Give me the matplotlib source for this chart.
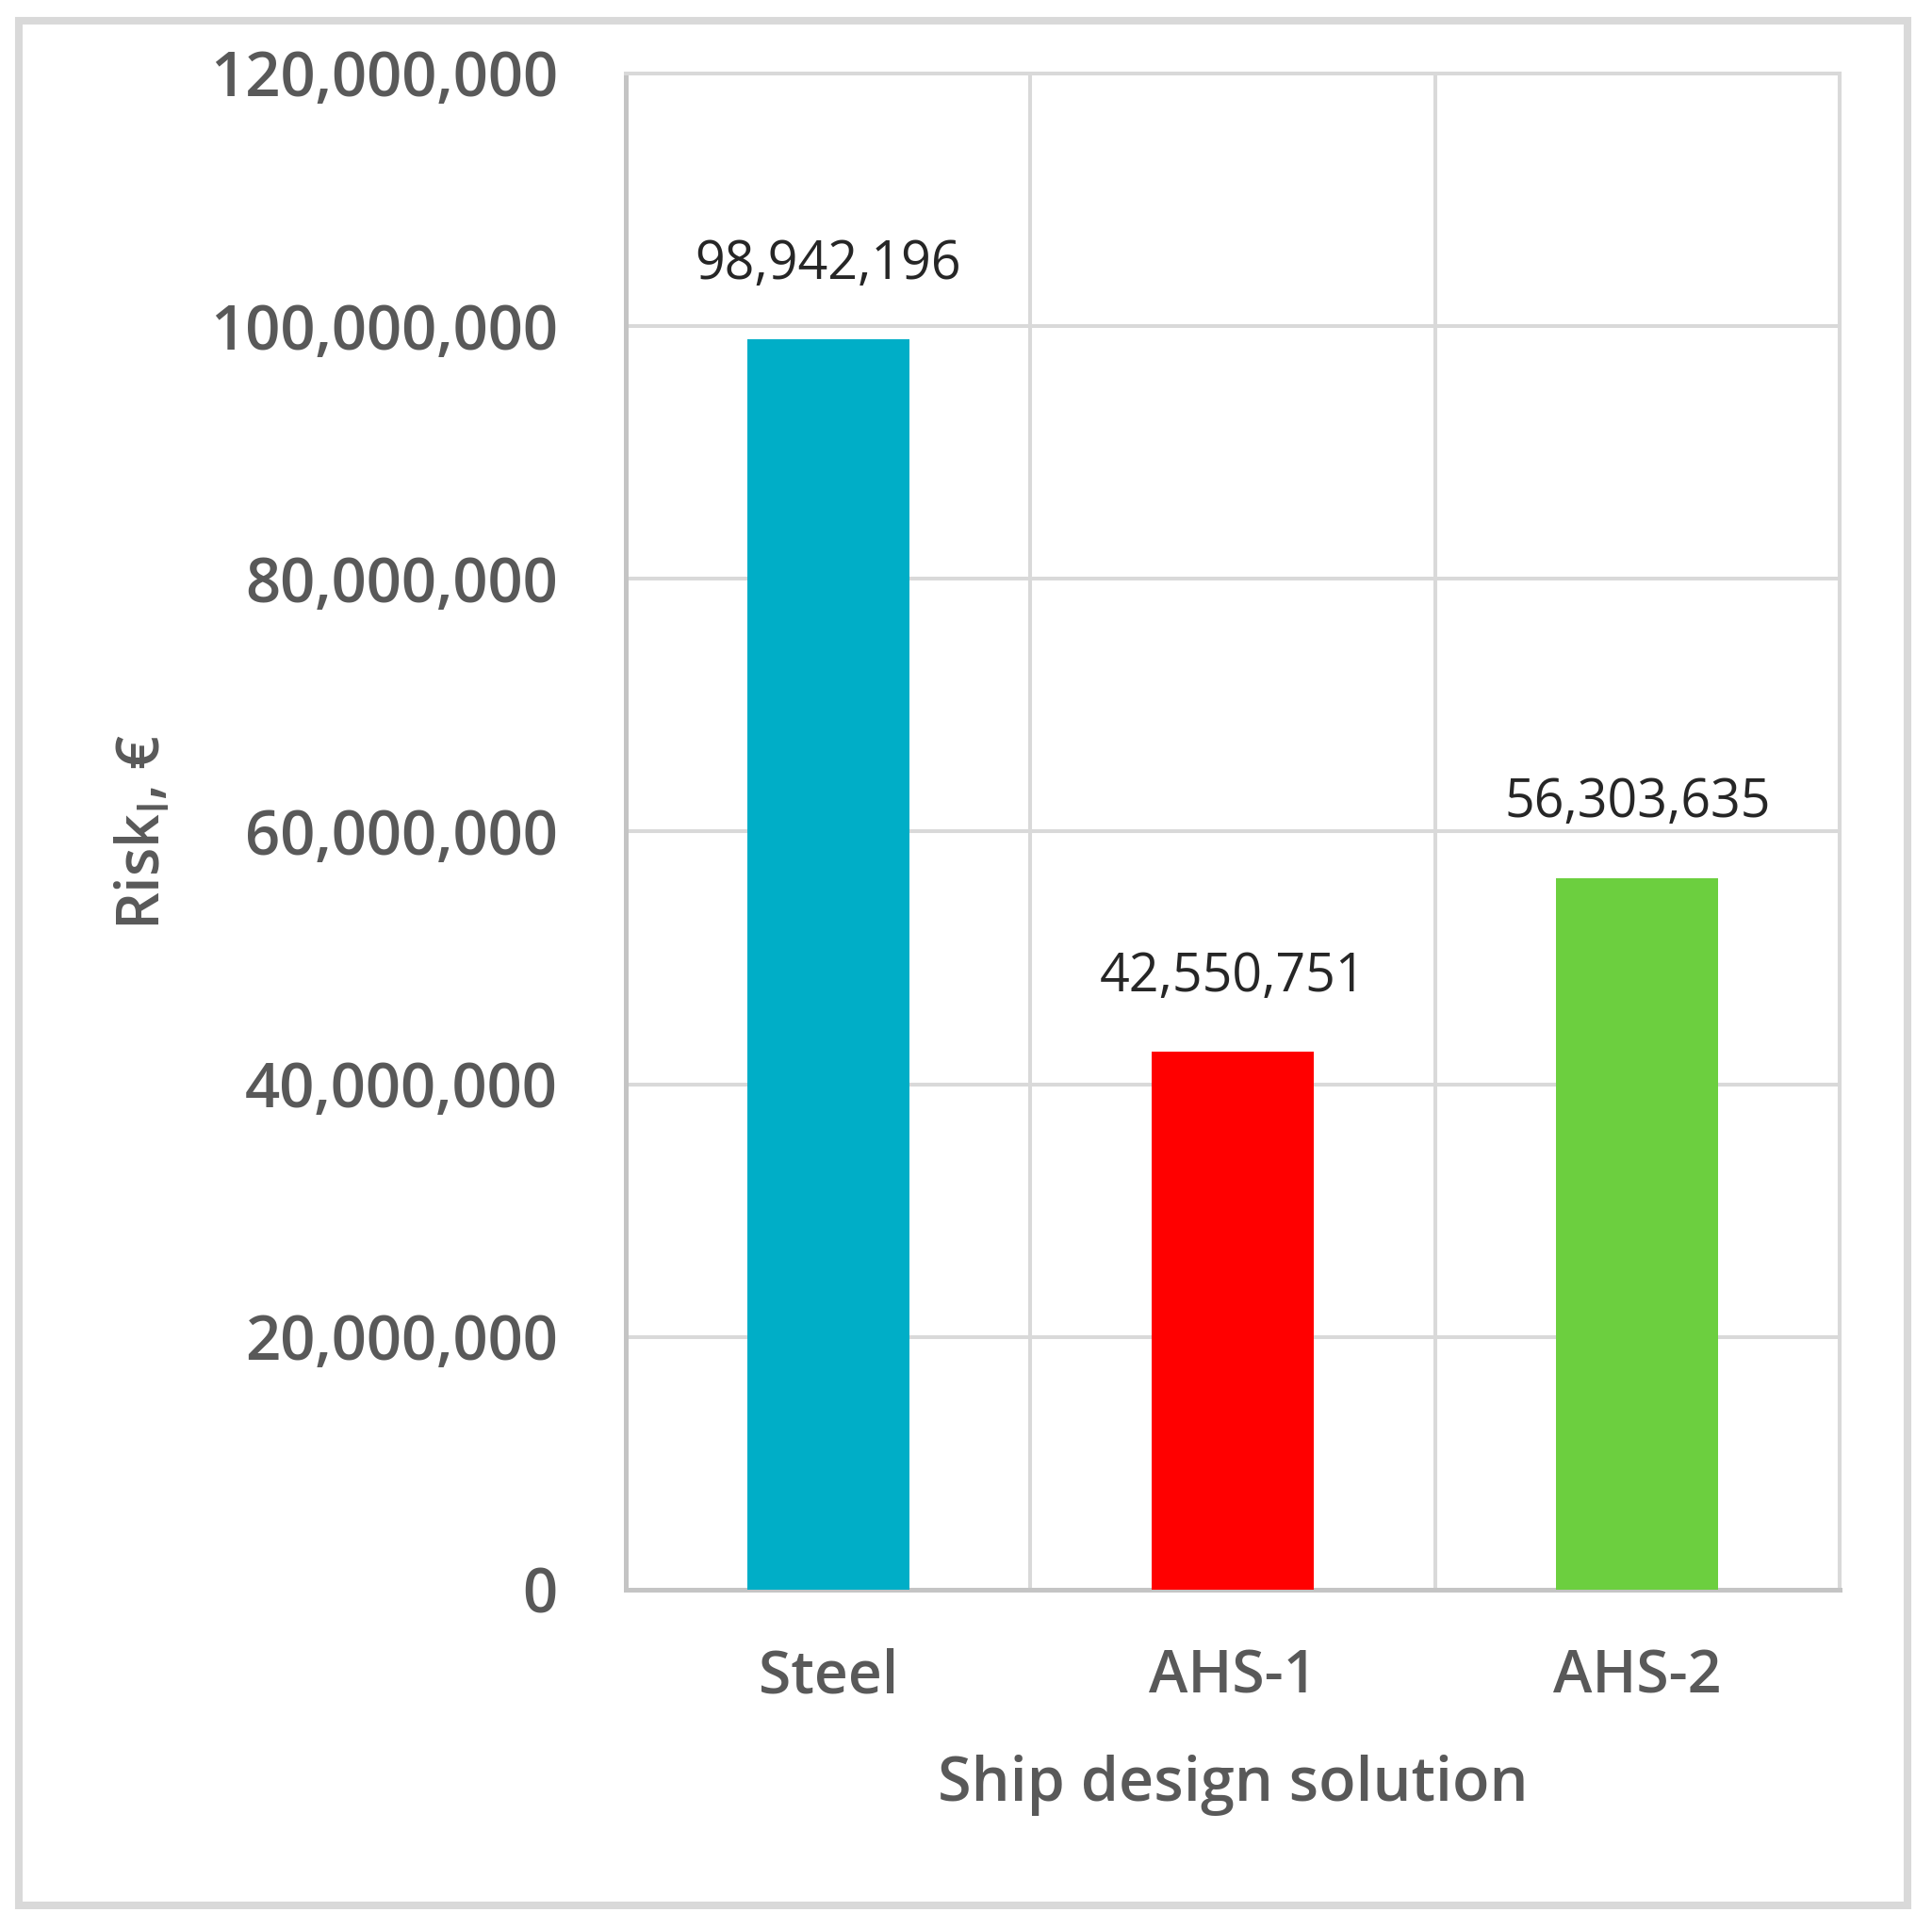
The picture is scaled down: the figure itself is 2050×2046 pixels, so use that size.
import numpy as np
import matplotlib
matplotlib.use('Agg')
import matplotlib.pyplot as plt
from matplotlib.patches import Rectangle
from matplotlib.ticker import FuncFormatter, MultipleLocator

# data
categories = ['Steel', 'AHS-1', 'AHS-2']
risk_values = [98942196, 42550751, 56303635]
bar_colors = ['#00AEC7', '#FF0000', '#6CCF3F']
y_ticks = [0, 20000000, 40000000, 60000000, 80000000, 100000000, 120000000]

plt.rcParams['font.family'] = ['Open Sans', 'DejaVu Sans']
text_gray = '#595959'
grid_gray = '#d9d9d9'
wt = 'semibold'

fig = plt.figure(figsize=(20.5, 20.46), dpi=100)
ax = fig.add_axes([0.3239, 0.1755, 0.6283, 0.7864])

x = np.arange(len(categories))
ax.bar(x, risk_values, width=0.4, color=bar_colors, zorder=3)

for xi, v in zip(x, risk_values):
    ax.annotate(f'{v:,}', (xi, v), xytext=(0, 57), textcoords='offset points',
                ha='center', va='center', fontsize=40, color='#262626', zorder=4)

ax.set_xlim(-0.5, len(categories) - 0.5)
ax.set_ylim(0, 120000000)
ax.set_yticks(y_ticks)
ax.yaxis.set_major_formatter(FuncFormatter(lambda v, p: f'{v:,.0f}'))
ax.set_xticks(x)
ax.set_xticklabels(categories)
ax.xaxis.set_minor_locator(MultipleLocator(1, offset=0.5))

ax.grid(axis='y', which='major', color=grid_gray, linewidth=2.9, zorder=0)
ax.grid(axis='x', which='minor', color=grid_gray, linewidth=2.9, zorder=0)
ax.tick_params(which='both', length=0)
ax.tick_params(axis='y', pad=52, labelsize=47, labelcolor=text_gray)
ax.tick_params(axis='x', pad=44, labelsize=45, labelcolor=text_gray)
for lab in ax.get_xticklabels() + ax.get_yticklabels():
    lab.set_fontweight(wt)

for side in ['top', 'right']:
    ax.spines[side].set_color(grid_gray)
    ax.spines[side].set_linewidth(2.9)
for side in ['left', 'bottom']:
    ax.spines[side].set_color('#c4c4c4')
    ax.spines[side].set_linewidth(3.6)

ax.set_xlabel('Ship design solution', fontsize=46.5, fontweight=wt,
              color=text_gray, labelpad=37)
ax.set_ylabel(r'Risk$_{\mathregular{l}}$, €', fontsize=45, fontweight=wt,
              color=text_gray)
ax.yaxis.set_label_coords(-0.372, 0.5)

# outer chart frame
fig.patches.append(Rectangle((20 / 2050, 24 / 2046), 2004 / 2050, 2000 / 2046,
                             transform=fig.transFigure, fill=False,
                             edgecolor=grid_gray, linewidth=5.8))

fig.savefig('out.png', dpi=100, facecolor='white')
